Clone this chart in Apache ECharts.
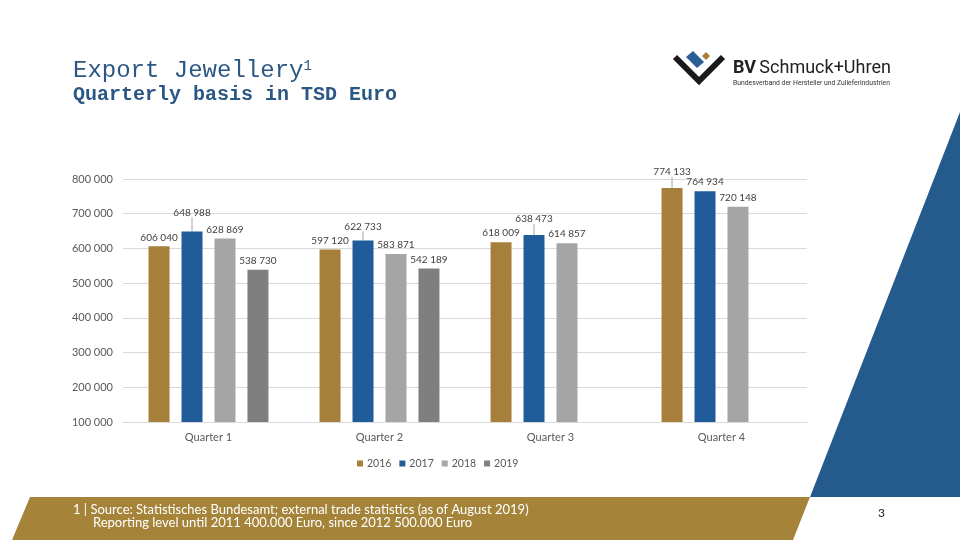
<!DOCTYPE html>
<html>
<head>
<meta charset="utf-8">
<script src="https://cdn.jsdelivr.net/npm/echarts@6/dist/echarts.min.js"></script>
<style>
html, body { margin: 0; padding: 0; background: #fff; }
#main { width: 960px; height: 540px; }
</style>
</head>
<body>
<div id="main"></div>
<script>
// Export Jewellery, quarterly, TSD Euro
var quarters = ['Quarter 1', 'Quarter 2', 'Quarter 3', 'Quarter 4'];
var years = ['2016', '2017', '2018', '2019'];
var values2016 = [606040, 597120, 618009, 774133];
var values2017 = [648988, 622733, 638473, 764934];
var values2018 = [628869, 583871, 614857, 720148];
var values2019 = [538730, 542189, null, null];

var colors = ['#A6803A', '#1F5C99', '#A5A5A5', '#7F7F7F'];
// labels pulled up with a leader line (px), per year / quarter
var labelLift = {
	'2016': [0, 0, 0, 7],
	'2017': [10, 5, 7, 0]
};

function fmt(v) {
	return String(v).replace(/\B(?=(\d{3})+(?!\d))/g, ' ');
}

function makeSeries(name, values, idx) {
	var lift = labelLift[name] || [];
	return {
		name : name,
		type : 'bar',
		barWidth : 21,
		barGap : '57%',
		itemStyle : { color : colors[idx] },
		data : values.map(function(v, i) {
			return {
				value : v,
				labelLine : { show : !!lift[i] }
			};
		}),
		label : {
			show : true,
			position : 'top',
			distance : 4,
			fontFamily : 'Lato',
			fontSize : 10,
			color : '#404040',
			formatter : function(p) { return fmt(p.value); }
		},
		labelLine : {
			lineStyle : { color : '#A6A6A6', width : 1 }
		},
		labelLayout : function(p) {
			return { dy : -(lift[p.dataIndex] || 0) };
		}
	};
}

var myChart = echarts.init(document.getElementById('main'));

var option = {
	animation : false,
	textStyle : { fontFamily : 'Lato' },
	grid : { left : 123, right : 153, top : 179, bottom : 118 },
	legend : {
		data : years,
		left : 352,
		top : 453,
		icon : 'rect',
		itemWidth : 6,
		itemHeight : 6,
		itemGap : 8,
		textStyle : { fontFamily : 'Lato', fontSize : 10.5, color : '#595959', padding : [0, 0, 0, -1] }
	},
	xAxis : {
		type : 'category',
		data : quarters,
		axisLine : { lineStyle : { color : '#D9D9D9' } },
		axisTick : { show : false },
		axisLabel : { margin : 10, fontFamily : 'Lato', fontSize : 11, color : '#595959' }
	},
	yAxis : {
		type : 'value',
		min : 100000,
		max : 800000,
		interval : 100000,
		axisLine : { show : false },
		axisTick : { show : false },
		splitLine : { lineStyle : { color : '#D9D9D9' } },
		axisLabel : {
			margin : 10,
			fontFamily : 'Lato',
			fontSize : 11,
			color : '#595959',
			formatter : fmt
		}
	},
	series : [
		makeSeries('2016', values2016, 0),
		makeSeries('2017', values2017, 1),
		makeSeries('2018', values2018, 2),
		makeSeries('2019', values2019, 3)
	],
	graphic : [
		// title
		{
			type : 'text', left : 73, top : 59,
			style : {
				text : '{a|Export Jewellery}{s|1}',
				rich : {
					a : { fontFamily : 'Liberation Mono', fontSize : 24, fill : '#2B5784' },
					s : { fontFamily : 'Liberation Mono', fontSize : 14, fill : '#2B5784', verticalAlign : 'top' }
				}
			}
		},
		{
			type : 'text', left : 73, top : 85,
			style : {
				text : 'Quarterly basis in TSD Euro',
				fontFamily : 'Liberation Mono', fontWeight : 'bold', fontSize : 20, fill : '#2B5784'
			}
		},
		// logo
		{
			type : 'polyline',
			shape : { points : [[675, 57], [699, 81], [723, 57]] },
			style : { stroke : '#1A1A1A', lineWidth : 6, fill : null }
		},
		{
			type : 'polygon',
			shape : { points : [[686, 57], [693, 51], [704, 62], [697, 68]] },
			style : { fill : '#2B5F93' }
		},
		{
			type : 'polygon',
			shape : { points : [[706, 52], [710, 56], [706, 60], [702, 56]] },
			style : { fill : '#A6803A' }
		},
		{
			type : 'text', left : 733, top : 59,
			style : {
				text : '{b|BV} {n|Schmuck+Uhren}',
				rich : {
					b : { fontFamily : 'Roboto', fontWeight : 'bold', fontSize : 18, fill : '#222' },
					n : { fontFamily : 'Roboto', fontSize : 18, fill : '#222' }
				}
			}
		},
		{
			type : 'text', left : 733, top : 80,
			style : {
				text : 'Bundesverband der Hersteller und Zulieferindustrien',
				fontFamily : 'Roboto', fontSize : 6.8, fill : '#333'
			}
		},
		// decorative shapes
		{
			type : 'polygon',
			shape : { points : [[960, 112], [810, 497], [960, 497]] },
			style : { fill : '#245A8C' }
		},
		{
			type : 'polygon',
			shape : { points : [[30, 497], [810, 497], [793, 540], [12, 540]] },
			style : { fill : '#A5843A' }
		},
		{
			type : 'text', left : 73, top : 503,
			style : {
				text : '1 | Source: Statistisches Bundesamt; external trade statistics (as of August 2019)\n      Reporting level until 2011 400.000 Euro, since 2012 500.000 Euro',
				fontFamily : 'Lato', fontSize : 13, lineHeight : 13.5, fill : '#fff'
			}
		},
		{
			type : 'text', left : 878, top : 507,
			style : { text : '3', fontFamily : 'Lato', fontSize : 12, fill : '#222' }
		}
	]
};

myChart.setOption(option);
</script>
</body>
</html>
